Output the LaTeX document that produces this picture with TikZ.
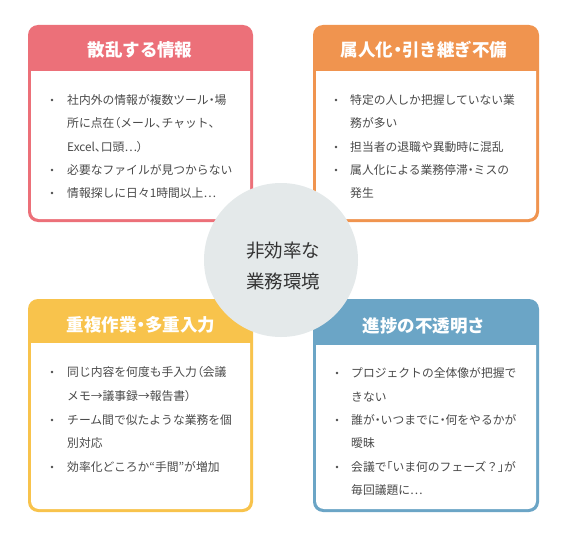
\documentclass[tikz,border=0pt]{standalone}
\usepackage{fontspec}
\setmainfont{Noto Sans CJK JP}
\newfontfamily\narrowpunct[RawFeature=+palt]{Noto Sans CJK JP}
\newcommand\np[1]{{\narrowpunct #1}}
\newcommand\myellip{⋯}
\definecolor{cred}{HTML}{EC7079}
\definecolor{corange}{HTML}{F0944F}
\definecolor{cyellow}{HTML}{F8C34C}
\definecolor{cblue}{HTML}{6BA5C6}
\definecolor{ccircle}{HTML}{E4E9EA}
\definecolor{ctext}{HTML}{4A4A4A}
\definecolor{cdark}{HTML}{333333}
\newcommand\issuepanel[6]{%
  \fill[#1, rounded corners=10pt] (#2,#3) rectangle (#4,#5);
  \begin{scope}
    \clip (#2,#6) rectangle (#4,#5);
    \fill[white, rounded corners=8pt] (#2+3,#3) rectangle (#4-3,#5-3);
  \end{scope}}
\tikzset{
  paneltitle/.style={text=white, font=\fontsize{17.5}{20}\selectfont\bfseries, inner sep=0pt},
  bodyline/.style={text=ctext, font=\fontsize{11.8}{14}\selectfont, anchor=west, inner sep=0pt},
  bulletdot/.style={circle, fill=ctext, minimum size=2.8pt, inner sep=0pt},
  centertext/.style={text=cdark, font=\fontsize{18.5}{31}\selectfont, align=center, inner sep=0pt},
}
\begin{document}
\begin{tikzpicture}[x=1pt,y=-1pt]
\fill[white] (0,0) rectangle (563,535);
\useasboundingbox (0,0) rectangle (563,535);
% panels
\issuepanel{cred}{28}{25}{253}{222}{72}
\issuepanel{corange}{313}{25}{539}{222}{72}
\issuepanel{cyellow}{28}{299}{253}{512}{343}
\issuepanel{cblue}{313}{299}{539}{512}{345}
% titles
\node[paneltitle] (t1) at (140,50) {散乱する情報};
\node[paneltitle] (t2) at (424,50) {属人化\np{・}引き継ぎ不備};
\node[paneltitle] (t3) at (141,325) {重複作業\np{・}多重入力};
\node[paneltitle] (t4) at (424,326) {進捗の不透明さ};
% panel 1
\node[bulletdot] (b11) at (52,100) {};
\node[bodyline] (l11) at (67,100) {社内外の情報が複数ツール\np{・}場};
\node[bodyline] (l12) at (67,123) {所に点在\np{（}メール\np{、}チャット\np{、}};
\node[bodyline] (l13) at (67,147) {Excel\np{、}口頭\myellip\np{）}};
\node[bulletdot] (b12) at (52,170) {};
\node[bodyline] (l14) at (67,170) {必要なファイルが見つからない};
\node[bulletdot] (b13) at (52,193) {};
\node[bodyline] (l15) at (67,193) {情報探しに日々1時間以上\myellip};
% panel 2
\node[bulletdot] (b21) at (336,100) {};
\node[bodyline] (l21) at (350,100) {特定の人しか把握していない業};
\node[bodyline] (l22) at (350,123) {務が多い};
\node[bulletdot] (b22) at (336,147) {};
\node[bodyline] (l23) at (350,147) {担当者の退職や異動時に混乱};
\node[bulletdot] (b23) at (336,170) {};
\node[bodyline] (l24) at (350,170) {属人化による業務停滞\np{・}ミスの};
\node[bodyline] (l25) at (350,193) {発生};
% panel 3
\node[bulletdot] (b31) at (52,372) {};
\node[bodyline] (l31) at (67,372) {同じ内容を何度も手入力\np{（}会議};
\node[bodyline] (l32) at (67,396) {メモ→議事録→報告書\np{）}};
\node[bulletdot] (b32) at (52,420) {};
\node[bodyline] (l33) at (67,420) {チーム間で似たような業務を個};
\node[bodyline] (l34) at (67,443) {別対応};
\node[bulletdot] (b33) at (52,467) {};
\node[bodyline] (l35) at (67,467) {効率化どころか“手間”が増加};
% panel 4
\node[bulletdot] (b41) at (337,373) {};
\node[bodyline] (l41) at (351,373) {プロジェクトの全体像が把握で};
\node[bodyline] (l42) at (351,397) {きない};
\node[bulletdot] (b42) at (337,420) {};
\node[bodyline] (l43) at (351,420) {誰が\np{・}いつまでに\np{・}何をやるかが};
\node[bodyline] (l44) at (351,443) {曖昧};
\node[bulletdot] (b43) at (337,467) {};
\node[bodyline] (l45) at (351,467) {会議で\np{「}いま何のフェーズ？\np{」}が};
\node[bodyline] (l46) at (351,490) {毎回議題に\myellip};
% center
\fill[ccircle] (281,260) circle (77);
\node[centertext] (c) at (283,266) {非効率な\\業務環境};
\end{tikzpicture}
\end{document}
